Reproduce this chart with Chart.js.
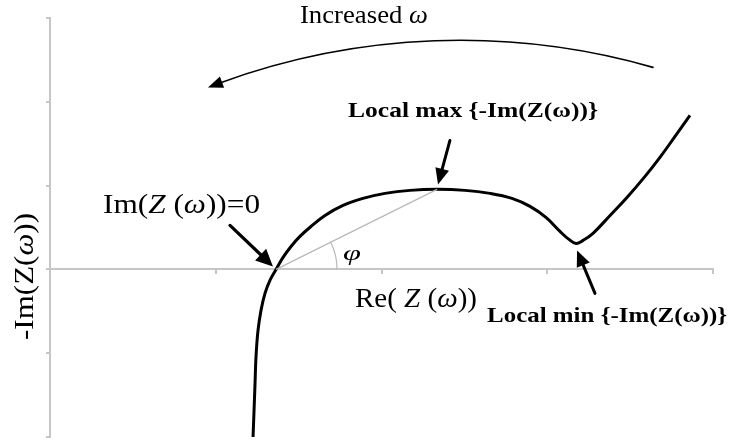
<!DOCTYPE html>
<html>
<head>
<meta charset="utf-8">
<script src="https://cdn.jsdelivr.net/npm/chart.js@4.4.1/dist/chart.umd.min.js"></script>
<style>
  html, body { margin: 0; padding: 0; background: #fff; }
  #wrap { width: 729px; height: 442px; }
</style>
</head>
<body>
<div id="wrap"><canvas id="c" width="729" height="442"></canvas></div>
<script>
// Nyquist curve: real part vs. negative imaginary part of Z(ω)
const reZ = [1.225, 1.231, 1.237, 1.243, 1.255, 1.273, 1.297, 1.327, 1.364, 1.406, 1.454, 1.508, 1.575, 1.659, 1.768, 1.888, 2.021, 2.172, 2.335, 2.504, 2.655, 2.787, 2.896, 2.992, 3.077, 3.131, 3.173, 3.216, 3.276, 3.379, 3.481, 3.590, 3.680, 3.771, 3.861];
const negImZ = [-2.0, -1.683, -1.360, -1.038, -0.728, -0.489, -0.286, -0.131, 0.0, 0.143, 0.274, 0.394, 0.513, 0.644, 0.764, 0.847, 0.907, 0.943, 0.955, 0.943, 0.907, 0.847, 0.752, 0.621, 0.453, 0.358, 0.310, 0.346, 0.430, 0.644, 0.859, 1.110, 1.337, 1.587, 1.838];

// Axis extents and tick spacing
const xRange = [0, 4];
const yRange = [-2, 3];
const tickStep = 1;

const points = reZ.map((x, i) => ({ x: x, y: negImZ[i] }));

// Key points on the curve: zero crossing of Im(Z) and the local maximum of -Im(Z) (before the dip)
const zeroIdx = negImZ.indexOf(0);
let maxIdx = 0;
negImZ.forEach((v, i) => { if (reZ[i] < 3 && v > negImZ[maxIdx]) maxIdx = i; });

const SERIF = '"Liberation Serif", "Times New Roman", serif';

function drawRuns(ctx, runs, x, y, targetW, rotated) {
  let w = 0;
  runs.forEach(r => { ctx.font = r.f; w += ctx.measureText(r.t).width; });
  ctx.save();
  ctx.translate(x, y);
  if (rotated) ctx.rotate(-Math.PI / 2);
  ctx.scale(targetW / w, 1);
  ctx.fillStyle = '#000';
  ctx.textBaseline = 'alphabetic';
  let cx = 0;
  runs.forEach(r => { ctx.font = r.f; ctx.fillText(r.t, cx, 0); cx += ctx.measureText(r.t).width; });
  ctx.restore();
}

function arrowHead(ctx, fromX, fromY, tipX, tipY, len, half) {
  const a = Math.atan2(tipY - fromY, tipX - fromX);
  ctx.beginPath();
  ctx.moveTo(tipX, tipY);
  ctx.lineTo(tipX - len * Math.cos(a) + half * Math.sin(a), tipY - len * Math.sin(a) - half * Math.cos(a));
  ctx.lineTo(tipX - len * Math.cos(a) - half * Math.sin(a), tipY - len * Math.sin(a) + half * Math.cos(a));
  ctx.closePath();
  ctx.fill();
}

function straightArrow(ctx, x1, y1, x2, y2, lw, len, half) {
  const a = Math.atan2(y2 - y1, x2 - x1);
  ctx.beginPath();
  ctx.lineWidth = lw;
  ctx.moveTo(x1, y1);
  ctx.lineTo(x2 - (len - 2) * Math.cos(a), y2 - (len - 2) * Math.sin(a));
  ctx.stroke();
  arrowHead(ctx, x1, y1, x2, y2, len, half);
}

// circle through three points, returned as [cx, cy, r]
function circle3(a, b, c) {
  const d = 2 * (a[0] * (b[1] - c[1]) + b[0] * (c[1] - a[1]) + c[0] * (a[1] - b[1]));
  const s = p => p[0] * p[0] + p[1] * p[1];
  const ux = (s(a) * (b[1] - c[1]) + s(b) * (c[1] - a[1]) + s(c) * (a[1] - b[1])) / d;
  const uy = (s(a) * (c[0] - b[0]) + s(b) * (a[0] - c[0]) + s(c) * (b[0] - a[0])) / d;
  return [ux, uy, Math.hypot(a[0] - ux, a[1] - uy)];
}

const annotations = {
  id: 'annotations',
  afterDraw(chart) {
    const ctx = chart.ctx;
    const X = v => chart.scales.x.getPixelForValue(v);
    const Y = v => chart.scales.y.getPixelForValue(v);
    ctx.save();

    // chord from the zero crossing to the local maximum, and the angle φ
    const ox = X(reZ[zeroIdx]), oy = Y(negImZ[zeroIdx]);
    const mx = X(reZ[maxIdx]), my = Y(negImZ[maxIdx]);
    ctx.strokeStyle = '#b8b8b8';
    ctx.lineWidth = 1.2;
    ctx.beginPath(); ctx.moveTo(ox, oy); ctx.lineTo(mx, my); ctx.stroke();
    const ang = Math.atan2(my - oy, mx - ox);
    ctx.beginPath(); ctx.arc(ox, oy, 61, ang, 0); ctx.stroke();

    ctx.strokeStyle = '#000';
    ctx.fillStyle = '#000';
    ctx.lineCap = 'round';

    // sweep arrow showing increasing frequency (circular arc, right to left)
    const pStart = [X(3.638), Y(2.411)], pTop = [X(2.413), Y(2.733)], pEnd = [X(0.953), Y(2.172)];
    const [cx, cy, r] = circle3(pStart, pTop, pEnd);
    const a0 = Math.atan2(pStart[1] - cy, pStart[0] - cx);
    const a1 = Math.atan2(pEnd[1] - cy, pEnd[0] - cx);
    const headLen = 15;
    ctx.lineWidth = 1.6;
    ctx.beginPath();
    ctx.arc(cx, cy, r, a0, a1 + (headLen - 3) / r, true);
    ctx.stroke();
    const back = a1 + headLen / r;
    arrowHead(ctx, cx + r * Math.cos(back), cy + r * Math.sin(back), pEnd[0], pEnd[1], headLen, 6);

    // pointer arrows
    straightArrow(ctx, X(1.086), Y(0.525), X(1.345), Y(0.036), 3.2, 17, 8);
    straightArrow(ctx, X(2.413), Y(1.539), X(2.341), Y(1.014), 3, 16, 7);
    straightArrow(ctx, X(3.288), Y(-0.286), X(3.180), Y(0.227), 3, 16, 7);

    // labels
    const reg = '25px ' + SERIF, it = 'italic 25px ' + SERIF;
    drawRuns(ctx, [{ t: 'Increased ', f: reg }, { t: 'ω', f: it }], X(1.508), Y(2.936), 128);

    const b = 'bold 22px ' + SERIF;
    drawRuns(ctx, [{ t: 'Local max {-Im(Z(ω))}', f: b }], X(1.798), Y(1.814), 250);
    drawRuns(ctx, [{ t: 'Local min {-Im(Z(ω))}', f: b }], X(2.637), Y(-0.632), 240);

    const r26 = '27px ' + SERIF, i26 = 'italic 27px ' + SERIF;
    drawRuns(ctx, [{ t: 'Im(', f: r26 }, { t: 'Z', f: i26 }, { t: ' (', f: r26 }, { t: 'ω', f: i26 }, { t: '))=0', f: r26 }], X(0.320), Y(0.668), 157);
    drawRuns(ctx, [{ t: 'Re( ', f: r26 }, { t: 'Z', f: i26 }, { t: ' (', f: r26 }, { t: 'ω', f: i26 }, { t: '))', f: r26 }], X(1.840), Y(-0.453), 122);
    drawRuns(ctx, [{ t: 'φ', f: 'italic 22px ' + SERIF }], X(1.768), Y(0.107), 18);

    // vertical axis title
    drawRuns(ctx, [{ t: '-Im(', f: r26 }, { t: 'Z', f: r26 }, { t: '(', f: r26 }, { t: 'ω', f: i26 }, { t: '))', f: r26 }], 33, 340, 127, true);

    ctx.restore();
  }
};

const axisGrey = '#c6c6c6';

new Chart(document.getElementById('c'), {
  type: 'scatter',
  data: {
    datasets: [{
      data: points,
      showLine: true,
      borderColor: '#000',
      borderWidth: 3,
      pointRadius: 0,
      tension: 0.4,
      fill: false
    }]
  },
  options: {
    responsive: false,
    animation: false,
    layout: { padding: { top: 18, right: 16, bottom: 5, left: 0 } },
    plugins: { legend: { display: false }, tooltip: { enabled: false } },
    scales: {
      x: {
        type: 'linear',
        min: xRange[0], max: xRange[1],
        position: { y: 0 },
        ticks: { display: false, stepSize: tickStep },
        grid: { drawOnChartArea: false, tickLength: 4, color: axisGrey, lineWidth: 2 },
        border: { color: axisGrey, width: 2 }
      },
      y: {
        type: 'linear',
        min: yRange[0], max: yRange[1],
        position: 'left',
        afterFit: s => { s.width = 50; },
        ticks: { display: false, stepSize: tickStep },
        grid: { drawOnChartArea: false, tickLength: 4, color: axisGrey, lineWidth: 2 },
        border: { color: axisGrey, width: 2 }
      }
    }
  },
  plugins: [annotations]
});
</script>
</body>
</html>
